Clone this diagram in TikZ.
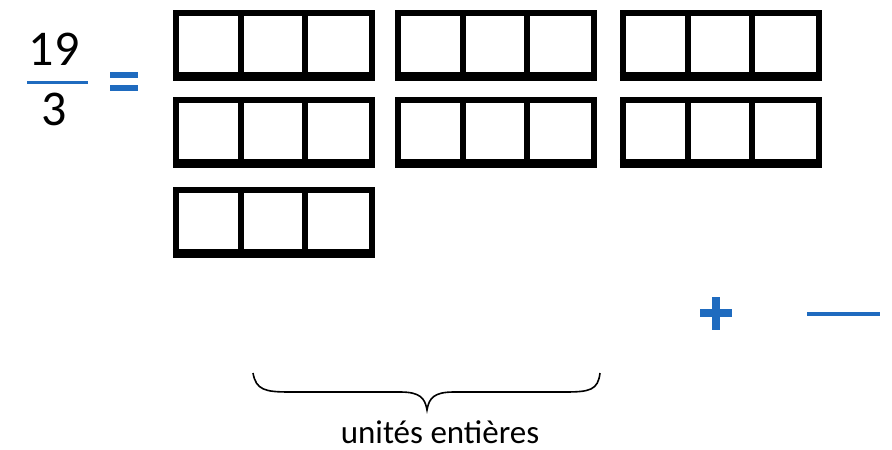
\documentclass[tikz,border=0pt]{standalone}
\usepackage{fontspec}
\setmainfont{Carlito}
\definecolor{signblue}{HTML}{1F6BBF}
\tikzset{
  cellbox/.style={draw=black, line width=6.5pt},
  cellbottom/.style={draw=black, line width=9pt},
  bigdigit/.style={inner sep=0pt, anchor=base, font=\fontsize{50}{54}\selectfont},
}
\begin{document}
\begin{tikzpicture}[x=1pt, y=-1pt]
\useasboundingbox (0,0) rectangle (892,450);

% Fraction
\node [bigdigit] (num) at (54,65) {19};
\node [bigdigit] (den) at (54,125) {3};
\coordinate (barL) at (27,82);
\coordinate (barR) at (88,82);
\draw [signblue, line width=3pt] (barL) -- (barR);

% Signe egal
\fill [signblue] (110,72) rectangle (138,78);
\fill [signblue] (110,85) rectangle (138,91);

% Unites (3 cases chacune)
\foreach \gx/\ry in {176/13, 398/13, 623/13, 176/100, 398/100, 623/100, 176/190} {
  \draw [cellbox] (\gx,\ry) rectangle ++(196,63);
  \draw [cellbox] (\gx+65,\ry) -- ++(0,63);
  \draw [cellbox] (\gx+129,\ry) -- ++(0,63);
  \draw [cellbottom] (\gx-3.25,\ry+63) -- ++(202.5,0);
}

% Plus et trait
\fill [signblue] (700,309) rectangle (732,317);
\fill [signblue] (712,297) rectangle (720,330);
\coordinate (minL) at (807,314);
\coordinate (minR) at (880,314);
\draw [signblue, line width=4pt] (minL) -- (minR);

% Accolade
\draw [line width=1.6pt] (253,373) .. controls (256,390) and (265,392) .. (290,392)
  -- (400,392) .. controls (420,392) and (425,398) .. (427,410)
  .. controls (429,398) and (434,392) .. (454,392)
  -- (565,392) .. controls (590,392) and (598,390) .. (600,373);
\node [inner sep=0pt, anchor=base, font=\fontsize{33}{36}\selectfont] (unites) at (440,443) {unités entières};
\end{tikzpicture}
\end{document}
